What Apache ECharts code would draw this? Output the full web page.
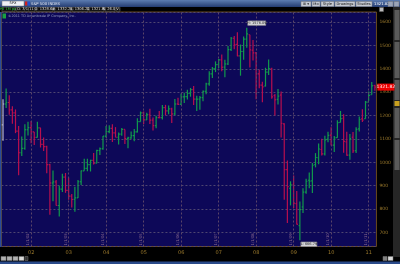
<!DOCTYPE html>
<html><head><meta charset="utf-8">
<script src="https://cdn.jsdelivr.net/npm/echarts@6/dist/echarts.min.js"></script>
<style>html,body{margin:0;padding:0;background:#000;overflow:hidden}#c{width:400px;height:264px}</style>
</head><body><div id="c"></div>
<script>
// Monthly bars, Apr 2001 .. Mar 2011
const months = [
 '2001-04','2001-05','2001-06','2001-07','2001-08','2001-09','2001-10','2001-11','2001-12',
 '2002-01','2002-02','2002-03','2002-04','2002-05','2002-06','2002-07','2002-08','2002-09','2002-10','2002-11','2002-12',
 '2003-01','2003-02','2003-03','2003-04','2003-05','2003-06','2003-07','2003-08','2003-09','2003-10','2003-11','2003-12',
 '2004-01','2004-02','2004-03','2004-04','2004-05','2004-06','2004-07','2004-08','2004-09','2004-10','2004-11','2004-12',
 '2005-01','2005-02','2005-03','2005-04','2005-05','2005-06','2005-07','2005-08','2005-09','2005-10','2005-11','2005-12',
 '2006-01','2006-02','2006-03','2006-04','2006-05','2006-06','2006-07','2006-08','2006-09','2006-10','2006-11','2006-12',
 '2007-01','2007-02','2007-03','2007-04','2007-05','2007-06','2007-07','2007-08','2007-09','2007-10','2007-11','2007-12',
 '2008-01','2008-02','2008-03','2008-04','2008-05','2008-06','2008-07','2008-08','2008-09','2008-10','2008-11','2008-12',
 '2009-01','2009-02','2009-03','2009-04','2009-05','2009-06','2009-07','2009-08','2009-09','2009-10','2009-11','2009-12',
 '2010-01','2010-02','2010-03','2010-04','2010-05','2010-06','2010-07','2010-08','2010-09','2010-10','2010-11','2010-12',
 '2011-01','2011-02','2011-03'
];
const openVals = [
 1160.33,1249.46,1255.82,1224.38,1211.23,1133.58,1040.94,1059.78,1139.45,
 1148.08,1130.20,1106.73,1147.39,1076.92,1067.14,989.82,911.62,916.07,815.28,885.76,936.31,
 879.82,855.70,841.15,848.18,916.92,963.59,974.50,990.31,1008.01,995.97,1050.71,1058.20,
 1111.92,1131.13,1144.94,1126.21,1107.30,1120.68,1140.84,1101.72,1104.24,1114.58,1130.20,1173.82,
 1211.92,1181.27,1203.60,1180.59,1156.85,1191.50,1191.33,1234.18,1220.33,1228.81,1207.01,1249.48,
 1248.29,1280.08,1280.66,1294.87,1310.61,1270.09,1270.20,1276.66,1303.82,1335.85,1377.94,1400.63,
 1418.03,1437.90,1406.80,1420.83,1482.37,1530.62,1504.42,1455.18,1473.99,1527.29,1545.79,1479.63,
 1467.97,1378.60,1330.45,1326.41,1385.97,1399.62,1284.91,1269.42,1287.83,1164.17,968.67,888.61,
 902.99,823.09,729.57,809.07,872.74,923.26,920.82,990.22,1019.52,1054.91,1036.18,1098.89,
 1116.56,1073.89,1105.36,1171.23,1188.58,1087.30,1031.10,1107.53,1049.72,1143.49,1185.71,1186.60,
 1257.62,1289.14,1328.64
];
const highVals = [
 1269.30,1315.93,1286.62,1239.78,1226.27,1155.40,1110.61,1163.38,1173.62,
 1176.97,1130.20,1173.94,1147.84,1106.59,1070.74,994.46,965.00,924.02,900.07,951.10,954.28,
 935.05,864.64,895.34,924.24,965.38,1015.33,1015.41,1011.01,1040.29,1053.79,1063.65,1112.56,
 1155.38,1158.98,1163.23,1150.57,1127.74,1146.34,1140.84,1109.68,1131.54,1142.05,1188.46,1217.33,
 1217.80,1212.16,1229.11,1191.88,1199.56,1219.59,1245.15,1245.86,1243.13,1233.34,1270.64,1275.80,
 1294.90,1297.57,1310.88,1318.16,1326.70,1284.72,1283.42,1306.74,1340.28,1389.45,1407.89,1431.81,
 1441.61,1461.57,1438.89,1498.02,1535.56,1540.56,1555.90,1503.89,1538.74,1576.09,1545.79,1523.57,
 1471.77,1396.02,1344.19,1404.57,1440.24,1404.05,1292.17,1313.15,1303.04,1167.03,1007.51,918.85,
 943.85,877.86,832.98,888.70,930.17,956.23,996.68,1039.47,1080.15,1101.36,1113.69,1130.38,
 1150.45,1112.42,1180.16,1219.80,1205.13,1131.23,1120.95,1129.24,1150.00,1196.14,1227.08,1262.60,
 1302.67,1344.07,1332.28
];
const lowVals = [
 1091.99,1232.00,1203.03,1165.54,1124.87,944.75,1026.76,1054.31,1114.93,
 1081.66,1074.36,1106.73,1063.46,1048.96,952.92,775.68,833.44,815.28,768.63,872.66,869.45,
 840.34,806.29,788.90,847.85,902.83,963.59,962.10,960.84,990.36,995.97,1031.20,1053.41,
 1105.08,1124.44,1087.16,1107.23,1076.32,1113.32,1078.78,1060.72,1101.29,1090.19,1127.60,1173.82,
 1163.75,1180.59,1163.69,1136.15,1146.18,1188.30,1183.55,1201.07,1205.35,1168.20,1201.07,1246.59,
 1245.74,1253.61,1268.42,1280.74,1245.34,1219.29,1224.54,1261.30,1290.93,1327.10,1360.98,1385.93,
 1403.97,1389.42,1363.98,1416.37,1476.70,1484.18,1454.25,1370.60,1439.29,1489.64,1406.10,1435.65,
 1270.05,1316.75,1256.98,1324.35,1373.72,1272.00,1200.44,1247.45,1106.42,839.80,741.02,815.69,
 804.30,734.52,666.79,783.32,866.10,888.86,869.32,978.51,991.97,1029.38,1029.38,1085.89,
 1071.59,1044.50,1105.36,1170.69,1040.78,1028.33,1010.91,1039.70,1039.70,1131.87,1173.00,1186.60,
 1262.18,1289.14,1306.21
];
const closeVals = [
 1249.46,1255.82,1224.38,1211.23,1133.58,1040.94,1059.78,1139.45,1148.08,
 1130.20,1106.73,1147.39,1076.92,1067.14,989.82,911.62,916.07,815.28,885.76,936.31,879.82,
 855.70,841.15,848.18,916.92,963.59,974.50,990.31,1008.01,995.97,1050.71,1058.20,1111.92,
 1131.13,1144.94,1126.21,1107.30,1120.68,1140.84,1101.72,1104.24,1114.58,1130.20,1173.82,1211.92,
 1181.27,1203.60,1180.59,1156.85,1191.50,1191.33,1234.18,1220.33,1228.81,1207.01,1249.48,1248.29,
 1280.08,1280.66,1294.87,1310.61,1270.09,1270.20,1276.66,1303.82,1335.85,1377.94,1400.63,1418.30,
 1438.24,1406.82,1420.86,1482.37,1530.62,1503.35,1455.27,1473.99,1526.75,1549.38,1481.14,1468.36,
 1378.55,1330.63,1322.70,1385.59,1400.38,1280.00,1267.38,1282.83,1166.36,968.75,896.24,903.25,
 825.88,735.09,797.87,872.81,919.14,919.32,987.48,1020.62,1057.08,1036.19,1095.63,1115.10,
 1073.87,1104.49,1169.43,1186.69,1089.41,1030.71,1101.60,1049.33,1141.20,1183.26,1180.55,1257.64,
 1286.12,1327.22,1321.82
];
const yearStarts = ['2002-01','2003-01','2004-01','2005-01','2006-01','2007-01','2008-01','2009-01','2010-01','2011-01'];
const yearLabels = ['02','03','04','05','06','07','08','09','10','11'];
const highNote = {month:'2007-10', value:1576.09, text:'H: 1576.09'};
const lowNote = {month:'2009-03', value:666.79, text:'L: 666.79'};
const lastPrice = 1321.82;

const UP='#119a4c', DOWN='#b80f4e', FLAT='#b8b8c8';
const data = months.map((m,i)=>{
  const dir = i===0 ? 0 : (closeVals[i] >= closeVals[i-1] ? 1 : -1);
  return [i, openVals[i], highVals[i], lowVals[i], closeVals[i], dir];
});

const chart = echarts.init(document.getElementById('c'), null, {renderer:'canvas'});
const F = 'DejaVu Sans, sans-serif';
function btn(x,y,w,h,t,fill,tc){
  return {type:'group', children:[
    {type:'rect', shape:{x:x,y:y,width:w,height:h}, style:{fill:fill, stroke:'#777', lineWidth:0.5}},
    {type:'text', style:{x:x+w/2, y:y+h/2, text:t, fill:tc, font:'3.6px '+F, textAlign:'center', textVerticalAlign:'middle'}}
  ]};
}
const hdr = [
  {type:'rect', shape:{x:0,y:0,width:400,height:7}, style:{fill:new echarts.graphic.LinearGradient(0,0,0,1,[{offset:0,color:'#5c7cb0'},{offset:1,color:'#243c72'}])}},
  btn(2,1,22,5,'SPX','#eef0f6','#111'),
  {type:'rect', shape:{x:25,y:1.5,width:2.5,height:4}, style:{fill:'#d02020'}},
  {type:'rect', shape:{x:27.5,y:1.5,width:2.5,height:4}, style:{fill:'#2050d0'}},
  {type:'text', style:{x:31, y:3.6, text:'S&P 500 INDEX', fill:'#dfe4f0', font:'3.8px '+F, textVerticalAlign:'middle'}},
  btn(301,1.5,10,5,'⊞ ▾','#c4c8d0','#111'),
  btn(312,1.5,8,5,'Mo','#c4c8d0','#111'),
  btn(321,1.5,13,5,'Style','#c4c8d0','#111'),
  btn(335,1.5,20,5,'Drawings','#c4c8d0','#111'),
  btn(356,1.5,16,5,'Studies','#c4c8d0','#111'),
  {type:'text', style:{x:374, y:3.8, text:'1321.82', fill:'#fff', font:'3.8px '+F, textVerticalAlign:'middle'}},
  btn(388,1.5,5,5,'','#9aa4b8','#111'),
  btn(394,1.5,5,5,'','#9aa4b8','#111'),
  btn(2,7.3,13,4,'SPX 1M p4M','#0a0a0a','#2ecc40'),
  btn(16,7.3,19,4,'D: 3/1/11','#0a0a0a','#e0e0e0'),
  btn(36,7.3,17,4,'O: 1328.64','#0a0a0a','#e0e0e0'),
  btn(54,7.3,17,4,'H: 1332.28','#0a0a0a','#e0e0e0'),
  btn(72,7.3,16,4,'L: 1306.21','#0a0a0a','#e0e0e0'),
  btn(89,7.3,15,4,'C: 1321.82','#0a0a0a','#e0e0e0'),
  btn(105,7.3,10,4,'R: 26.07','#0a0a0a','#e0e0e0'),
  btn(116,7.3,4,4,'V:','#0a0a0a','#e0e0e0'),
  {type:'rect', shape:{x:0,y:12,width:1.4,height:235}, style:{fill:'#2a4a9a'}},
  {type:'rect', shape:{x:2.5,y:13.5,width:3.5,height:5}, style:{fill:'#1aa040'}, z:20},
  {type:'text', style:{x:8, y:16.2, text:'©2011 TD Ameritrade IP Company, Inc.', fill:'#9aa0c0', font:'3.4px '+F, textVerticalAlign:'middle'}, z:20},
  {type:'rect', shape:{x:393,y:7,width:7,height:250}, style:{fill:'#262626'}},
  {type:'rect', shape:{x:394.5,y:10,width:5,height:30}, style:{fill:'#5a5a5a'}},
  {type:'rect', shape:{x:394.5,y:42,width:5,height:36}, style:{fill:'#5a5a5a'}},
  {type:'rect', shape:{x:394.5,y:80,width:5,height:20}, style:{fill:'#5a5a5a'}},
  {type:'rect', shape:{x:394.5,y:101,width:5,height:5}, style:{fill:'#c8a020'}},
  {type:'rect', shape:{x:394.5,y:108,width:5,height:30}, style:{fill:'#5a5a5a'}},
  {type:'rect', shape:{x:394.5,y:140,width:5,height:30}, style:{fill:'#5a5a5a'}},
  {type:'rect', shape:{x:379.5,y:7.5,width:4,height:4}, style:{fill:'#bbb', stroke:'#666', lineWidth:0.5}},
  btn(1,256.5,5,4,'','#b0b0b0','#111'),
  btn(7,256.5,5,4,'','#b0b0b0','#111'),
  btn(13,256.5,5,4,'','#b0b0b0','#111'),
  btn(19,256.5,5,4,'','#d8d8d8','#111'),
  btn(25,256.5,3,4,'','#303030','#111'),
  btn(383,256.5,4,4,'','#808080','#111'),
  btn(388,256.5,5,4,'','#d8d8d8','#111'),
  {type:'rect', shape:{x:0,y:261.5,width:400,height:2.5}, style:{fill:'#2a4a8a'}}
];

const option = {
  backgroundColor:'#000',
  animation:false,
  textStyle:{fontFamily:F},
  grid:{left:1.44, right:23.56, top:12, bottom:17.5, show:true, backgroundColor:'#0d0858', borderColor:'#6a4a1c', borderWidth:1},
  xAxis:{
    type:'category', data:months, boundaryGap:true,
    axisLine:{show:false}, axisTick:{show:false}, splitLine:{show:false},
    axisLabel:{
      interval:(idx,val)=>yearStarts.indexOf(val)>=0,
      formatter:(val)=>yearLabels[yearStarts.indexOf(val)],
      color:'#9c7a2c', fontSize:5, margin:4
    }
  },
  yAxis:{
    type:'value', position:'right', min:640, max:1643, splitNumber:10, scale:true,
    axisLine:{show:false}, axisTick:{show:false},
    axisLabel:{color:'#9c7a2c', fontSize:4.5, margin:3, showMinLabel:false, showMaxLabel:false,
      formatter:(v)=>String(Math.round(v))},
    splitLine:{show:true, lineStyle:{color:'#4e4670', type:[2,2], width:1}}
  },
  graphic: hdr,
  series:[{
    type:'custom',
    data:data,
    clip:false,
    encode:{x:0, y:[1,2,3,4]},
    renderItem:(params, api)=>{
      const i = api.value(0);
      const o = api.coord([i, api.value(1)]);
      const h = api.coord([i, api.value(2)]);
      const l = api.coord([i, api.value(3)]);
      const c = api.coord([i, api.value(4)]);
      const d = api.value(5);
      const col = d>0?UP:(d<0?DOWN:FLAT);
      const w = api.size([1,0])[0]*0.4;
      const st = {stroke:col, lineWidth:1.2};
      return {type:'group', children:[
        {type:'line', shape:{x1:h[0],y1:h[1],x2:l[0],y2:l[1]}, style:st},
        {type:'line', shape:{x1:o[0]-w,y1:o[1],x2:o[0],y2:o[1]}, style:st},
        {type:'line', shape:{x1:c[0],y1:c[1],x2:c[0]+w,y2:c[1]}, style:st}
      ]};
    },
    markLine:{
      silent:true, symbol:'none', animation:false,
      lineStyle:{color:'#5a4468', type:[2,2], width:1},
      label:{show:true, position:'insideStartTop', color:'#8a6a8e', fontSize:3.8, distance:1,
        formatter:(p)=>'1/' + p.value.slice(5,7).replace(/^0/,'') + '/' + p.value.slice(2,4)},
      data: yearStarts.map(m=>({xAxis:m}))
    },
    markPoint:{
      silent:true, animation:false,
      data:[
        {coord:[highNote.month, highNote.value], symbol:'rect', symbolSize:[18,4.5], symbolOffset:[10,-4.5],
          itemStyle:{color:'#d4d4d8', borderColor:'#888', borderWidth:0.5},
          label:{show:true, formatter:highNote.text, color:'#222', fontSize:3.5, position:'inside'}},
        {coord:[lowNote.month, lowNote.value], symbol:'rect', symbolSize:[16,4.5], symbolOffset:[9,4],
          itemStyle:{color:'#d4d4d8', borderColor:'#888', borderWidth:0.5},
          label:{show:true, formatter:lowNote.text, color:'#222', fontSize:3.5, position:'inside'}},
        {coord:[months[months.length-1], lastPrice], symbol:'rect', symbolSize:[17,7], symbolOffset:[11,0],
          itemStyle:{color:'#ee0000'},
          label:{show:true, formatter:String(lastPrice), color:'#ffffff', fontSize:4.5, position:'inside'}}
      ]
    }
  }]
};
chart.setOption(option);
</script></body></html>
